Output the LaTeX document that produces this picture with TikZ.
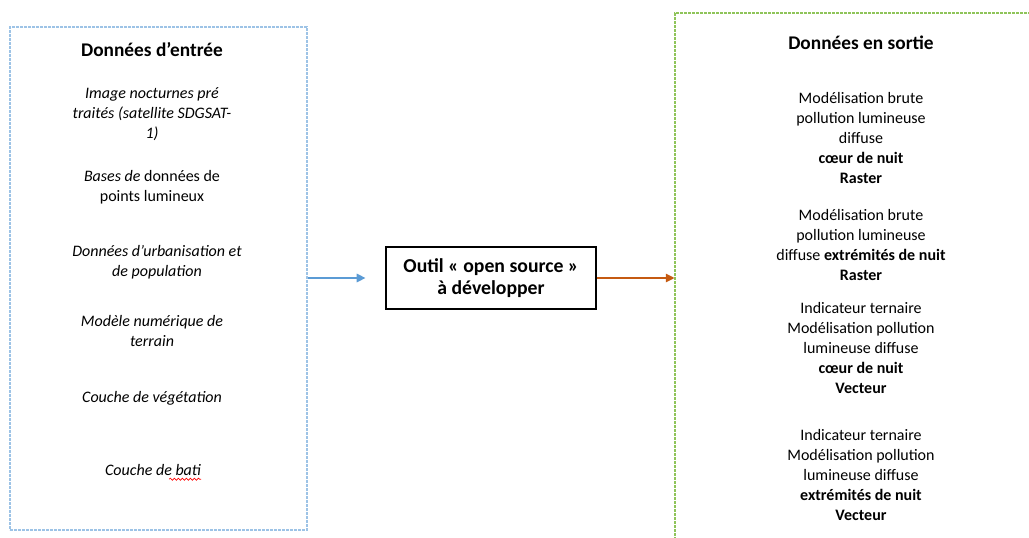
\documentclass[tikz,border=0pt]{standalone}
\usepackage{fontspec}
\setmainfont{Carlito}
\usetikzlibrary{positioning,arrows.meta,decorations.pathmorphing}

\definecolor{inblue}{HTML}{9DC3E6}
\definecolor{arrowblue}{HTML}{5B9BD5}
\definecolor{arroworange}{HTML}{C55A11}
\definecolor{outgreen}{HTML}{8FC45A}

\tikzset{
  databox/.style={draw, line width=0.8pt, dash pattern=on 2pt off 1pt, inner sep=0pt},
  toolbox/.style={draw, line width=0.9pt, inner sep=0pt, minimum width=157.5pt, minimum height=46.5pt,
    align=center, font=\fontsize{14.8}{17}\selectfont\bfseries},
  txt/.style={align=center, inner sep=0pt, font=\fontsize{12}{15}\selectfont},
  head/.style={txt, font=\fontsize{14.5}{15}\selectfont\bfseries},
  flow/.style={line width=0.8pt, -{Triangle[length=6.5pt, width=6.5pt]}},
}

\begin{document}
\begin{tikzpicture}[x=0.75pt, y=-0.75pt]
    \useasboundingbox (0,0) rectangle (1029,538);
    \clip (0,0) rectangle (1029,538);
    % Boxes
    \node[databox, draw=inblue, minimum width=222.75pt, minimum height=377.25pt] (inbox) at (158.5,278.5) {}; %
    \node[databox, draw=outgreen, minimum width=300pt, minimum height=420pt] (outbox) at (875,293) {}; %
    \node[toolbox] (tool) at (491,278) {Outil « open source »\\ à développer}; %
    % Input data
    \node[head] (intitle) at (152,50) {Données d’entrée}; %
    \node[txt] (image) at (152,114) {\itshape Image nocturnes pré\\ \itshape traités (satellite SDGSAT-\\ \itshape 1)}; %
    \node[txt] (points) at (152,187) {\textit{Bases de} données de\\ points lumineux}; %
    \node[txt] (urba) at (157,262) {\itshape Données d’urbanisation et\\ \itshape de population}; %
    \node[txt] (mnt) at (152,331) {\itshape Modèle numérique de\\ \itshape terrain}; %
    \node[txt] (vege) at (152,398) {\itshape Couche de végétation}; %
    \node[txt] (bati) at (153,470) {\itshape Couche de bati}; %
    \draw[red, line width=0.5pt, decorate, decoration={snake, amplitude=0.8pt, segment length=3pt}]
      ([xshift=-24pt, yshift=-2.5pt]bati.south east) -- ([yshift=-2.5pt]bati.south east); %
    % Output data
    \node[head] (outtitle) at (861,43) {Données en sortie}; %
    \node[txt] (rastcore) at (861,138) {Modélisation brute\\ pollution lumineuse\\ diffuse\\ \textbf{cœur de nuit}\\ \textbf{Raster}}; %
    \node[txt] (rastend) at (861,245) {Modélisation brute\\ pollution lumineuse\\ diffuse \textbf{extrémités de nuit}\\ \textbf{Raster}}; %
    \node[txt] (veccore) at (861,348) {Indicateur ternaire\\ Modélisation pollution\\ lumineuse diffuse\\ \textbf{cœur de nuit}\\ \textbf{Vecteur}}; %
    \node[txt] (vecend) at (861,475) {Indicateur ternaire\\ Modélisation pollution\\ lumineuse diffuse\\ \textbf{extrémités de nuit}\\ \textbf{Vecteur}}; %
    % Arrows
    \draw[flow, arrowblue, shorten >=15pt] (inbox.east |- tool) -- (tool.west); %
    \draw[flow, arroworange] (tool.east) -- (outbox.west |- tool); %
\end{tikzpicture}
\end{document}
